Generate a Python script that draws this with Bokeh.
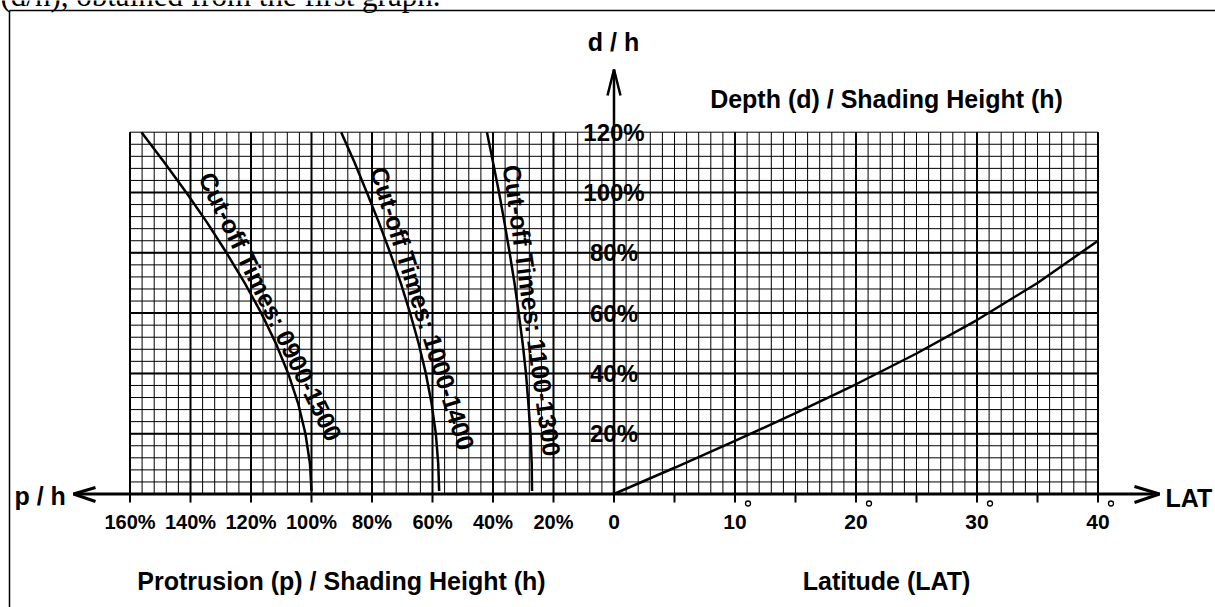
import numpy as np
from bokeh.plotting import figure
from bokeh.models import Range1d
from bokeh.core.properties import value
from bokeh.embed import file_html
from bokeh.resources import INLINE

# ---------------- data ----------------
ph_ticks = [160, 140, 120, 100, 80, 60, 40, 20]          # p/h tick values (%)
ph_tick_labels = ["160%", "140%", "120%", "100%", "80%", "60%", "40%", "20%"]
lat_ticks = [0, 10, 20, 30, 40]                           # latitude tick values (deg)
lat_tick_labels = ["0", "10", "20", "30", "40"]
dh_ticks = [20, 40, 60, 80, 100, 120]                     # d/h tick values (%)
dh_tick_labels = ["20%", "40%", "60%", "80%", "100%", "120%"]

# right graph: d/h (%) against latitude (deg)
lat = [0, 5, 10, 15, 20, 25, 30, 35, 40]
dh_lat = [0, 8.7, 17.6, 26.8, 36.4, 46.6, 57.7, 70.0, 84.0]

# left graph: p/h (%) against d/h (%) for three cut-off times
dh_cut = [1, 10, 20, 30, 40, 50, 60, 70, 80, 90, 100, 110, 120]
ph_0900_1500 = [100, 100.5, 102, 104.4, 107.7, 111.8, 116.6, 122.1, 128.1, 134.5, 141.4, 148.7, 156.2]
ph_1000_1400 = [57.8, 58.1, 58.9, 60.3, 62.2, 64.6, 67.4, 70.5, 74.0, 77.7, 81.7, 85.8, 90.2]
ph_1100_1300 = [27.1, 27.2, 27.6, 28.3, 29.1, 30.2, 31.5, 32.9, 34.5, 36.2, 38.0, 40.0, 42.0]
cut_labels = ["Cut-off Times: 0900-1500", "Cut-off Times: 1000-1400", "Cut-off Times: 1100-1300"]

# ---------------- layout ----------------
W, H = 1215, 607
X0, SX = 613.5, 12.1      # pixel of origin, pixels per unit (1 deg = 4 % p/h)
Y0, SY = 493.5, 3.015     # pixel of origin, pixels per 1 % d/h
PH_PER_UNIT = 4.0

def ux(px):   # pixel x -> data x
    return (px - X0) / SX

def uy(py):   # pixel y -> data y
    return (Y0 - py) / SY

def ph2u(p):
    return -np.asarray(p, dtype=float) / PH_PER_UNIT

p = figure(width=W, height=H, x_range=Range1d(ux(0), ux(W)), y_range=Range1d(uy(H), uy(0)),
           output_backend="svg", toolbar_location=None, min_border=0,
           background_fill_color="white", border_fill_color="white")
p.axis.visible = False
p.grid.visible = False
p.outline_line_color = None

BOLD = value("Liberation Sans")

# header text line above the frame (only its lower part is visible)
p.text(x=[ux(0)], y=[uy(-5)], text=["(d/h), obtained from the first graph."],
       text_font=value("Liberation Serif"), text_font_size="31px",
       text_align="left", text_baseline="alphabetic", text_color="black")

# frame
p.line([ux(9), ux(9)], [uy(10), uy(H + 5)], line_color="black", line_width=1.5)
p.line([ux(9), ux(W + 5)], [uy(10), uy(10)], line_color="black", line_width=1.5)

# ---------------- grid ----------------
u_left, u_right = ph2u(max(ph_ticks)), float(max(lat_ticks))
d_top = float(max(dh_ticks))
minor_u = np.arange(u_left, u_right + 0.5, 1.0)
minor_d = np.arange(0, d_top + 0.5, 4.0)
p.multi_line(xs=[[u, u] for u in minor_u], ys=[[0, d_top]] * len(minor_u),
             line_color="black", line_width=1)
p.multi_line(xs=[[u_left, u_right]] * len(minor_d), ys=[[d, d] for d in minor_d],
             line_color="black", line_width=1)
major_u = list(ph2u(ph_ticks)) + [float(t) for t in lat_ticks[1:]]
p.multi_line(xs=[[u, u] for u in major_u], ys=[[0, d_top]] * len(major_u),
             line_color="black", line_width=2)
p.multi_line(xs=[[u_left, u_right]] * (len(dh_ticks) - 1), ys=[[d, d] for d in dh_ticks[:-1]],
             line_color="black", line_width=2)

# ---------------- axes with arrows ----------------
p.line([ux(73), ux(1159)], [0, 0], line_color="black", line_width=3)
p.line([0, 0], [0, uy(69)], line_color="black", line_width=2.5)
p.line([ux(1134), ux(1159), ux(1134)], [uy(486), 0, uy(502)], line_color="black", line_width=3)
p.line([ux(95), ux(73), ux(95)], [uy(487), 0, uy(501)], line_color="black", line_width=3)
p.line([ux(607), 0, ux(620)], [uy(95), uy(69), uy(95)], line_color="black", line_width=2.5)

# tick marks along the horizontal axis (every 20 % p/h and every 5 deg)
tick_u = np.arange(u_left, u_right + 0.5, 5.0)
p.multi_line(xs=[[u, u] for u in tick_u], ys=[[0, uy(502)]] * len(tick_u),
             line_color="black", line_width=2)

# tick labels
p.text(x=list(ph2u(ph_ticks)), y=[uy(521)] * len(ph_ticks), text=ph_tick_labels,
       text_font=BOLD, text_font_style="bold", text_font_size="20px",
       text_align="center", text_baseline="middle")
p.text(x=lat_ticks, y=[uy(521)] * len(lat_ticks), text=lat_tick_labels,
       text_font=BOLD, text_font_style="bold", text_font_size="21px",
       text_align="center", text_baseline="middle")
# degree signs
p.scatter(x=[t + 13 / SX for t in lat_ticks[1:]], y=[uy(503)] * (len(lat_ticks) - 1),
          marker="circle", size=5, line_color="black", line_width=1.3, fill_color="white")
p.text(x=[0] * len(dh_ticks), y=dh_ticks, text=dh_tick_labels,
       text_font=BOLD, text_font_style="bold", text_font_size="24px",
       text_align="center", text_baseline="middle")

# ---------------- curves ----------------
p.line(lat, dh_lat, line_color="black", line_width=2.5)
for ph in (ph_0900_1500, ph_1000_1400, ph_1100_1300):
    p.line(list(ph2u(ph)), dh_cut, line_color="black", line_width=2.5)

# curve labels (rotated along the curves)
lab_px = [270, 422, 531.5]
lab_py = [306, 308, 310]
lab_ang = [-64, -72.5, -82]
p.text(x=[ux(v) for v in lab_px], y=[uy(v) for v in lab_py], text=cut_labels,
       angle=[np.radians(a) for a in lab_ang],
       text_font=BOLD, text_font_style="bold", text_font_size="25px",
       text_align="center", text_baseline="middle")

# ---------------- titles ----------------
def label(px, py, s, align="center", size="25px"):
    p.text(x=[ux(px)], y=[uy(py)], text=[s], text_font=BOLD, text_font_style="bold",
           text_font_size=size, text_align=align, text_baseline="middle")

label(613, 41, "d / h")
label(886, 98, "Depth (d) / Shading Height (h)")
label(341, 580, "Protrusion (p) / Shading Height (h)")
label(886, 580, "Latitude (LAT)")
label(14, 495, "p / h", align="left")
label(1165, 497, "LAT", align="left")

open("out.html", "w").write(file_html(p, INLINE))
